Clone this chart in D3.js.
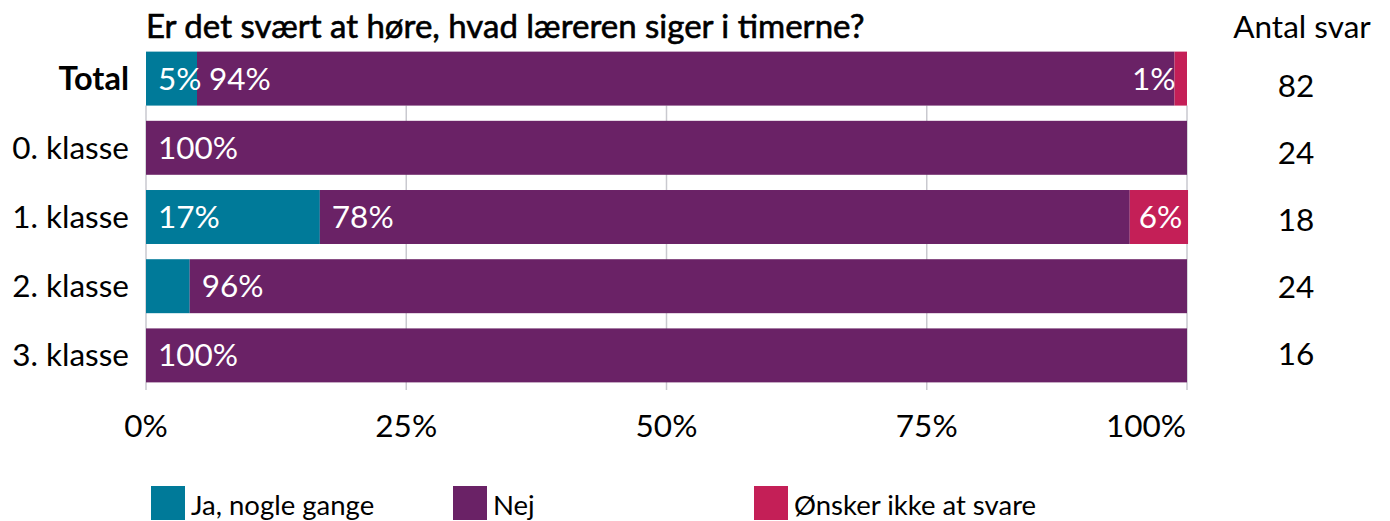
<!DOCTYPE html>
<html><head><meta charset="utf-8">
<script src="https://cdn.jsdelivr.net/npm/d3@7"></script>
<style>body{margin:0;background:#fff}svg{font-family:Lato,"Noto Sans",sans-serif}</style>
</head><body><svg id="c" width="1390" height="521"></svg>
<script>
const categories = ["Total","0. klasse","1. klasse","2. klasse","3. klasse"];
const seriesNames = ["Ja, nogle gange","Nej","Ønsker ikke at svare"];
const jaValues = [4.9, 0, 16.7, 4.2, 0];
const nejValues = [93.9, 100, 77.8, 95.8, 100];
const onskerValues = [1.2, 0, 5.6, 0, 0];
const counts = [82, 24, 18, 24, 16];
const tickValues = [0, 25, 50, 75, 100];
const tickLabels = ["0%","25%","50%","75%","100%"];
const colors = ["#007a99","#6a2266","#c41f57"];
const title = "Er det svært at høre, hvad læreren siger i timerne?";
const countTitle = "Antal svar";

const FS = 31.5;
const svg = d3.select("#c");
const x = d3.scaleLinear().domain([0,100]).range([146,1187]);
const y = d3.scaleBand().domain(categories).range([44,390]).paddingInner(0.22).paddingOuter(0.11);
const yc = d3.scalePoint().domain(categories).range([86,354]);
const legendX = d3.scaleOrdinal().domain(seriesNames).range([151,453,754]);

// grid
svg.append("g").selectAll("line").data(tickValues).join("line")
  .attr("x1",d=>x(d)).attr("x2",d=>x(d)).attr("y1",y(categories[0])+y.bandwidth()).attr("y2",390)
  .attr("stroke","#c9c9cf").attr("stroke-width",1.5);

const rows = categories.map((c,i)=>({cat:c, vals:[jaValues[i],nejValues[i],onskerValues[i]]}));
rows.forEach(r=>{
  let acc=0;
  r.segs = r.vals.map((v,k)=>{const s={cat:r.cat,k,v,x0:acc,x1:acc+v}; acc+=v; return s;});
});
const segs = rows.flatMap(r=>r.segs).filter(s=>s.v>0);
svg.append("g").selectAll("rect").data(segs).join("rect")
  .attr("x",d=>x(d.x0)).attr("width",d=>x(d.x1)-x(d.x0))
  .attr("y",d=>y(d.cat)).attr("height",y.bandwidth())
  .attr("fill",d=>colors[d.k]);

svg.append("g").selectAll("text").data(segs.filter(s=>s.v>=4.5 || s.k===2)).join("text")
  .each(function(d){
    const t=d3.select(this);
    const narrow = d.k===2 && (x(d.x1)-x(d.x0))<40;
    t.attr("x", narrow ? x(d.x0)+1 : x(d.x0)+(d.k===2?9:12))
     .attr("text-anchor", narrow ? "end":"start");
  })
  .attr("y",d=>y(d.cat)+y.bandwidth()/2+11)
  .attr("fill","#fff").attr("font-size",FS)
  .text(d=>Math.round(d.v)+"%");

// category labels
svg.append("g").selectAll("text").data(categories).join("text")
  .attr("x",129).attr("y",d=>y(d)+y.bandwidth()/2+11).attr("text-anchor","end")
  .attr("font-size",(d,i)=>i===0?32.5:FS).attr("fill","#000")
  .attr("font-weight",(d,i)=>i===0?700:400)
  .text(d=>d);

// x axis labels
svg.append("g").selectAll("text").data(tickValues).join("text")
  .attr("x",d=>x(d)).attr("y",437).attr("text-anchor",(d,i)=>i===tickValues.length-1?"end":"middle")
  .attr("dx",(d,i)=>i===tickValues.length-1?-1:0)
  .attr("font-size",FS).attr("fill","#000")
  .text((d,i)=>tickLabels[i]);

// title
svg.append("text").attr("x",146).attr("y",38).attr("font-size",33).attr("fill","#000")
  .attr("stroke","#000").attr("stroke-width",0.6).text(title);
svg.append("text").attr("x",1302).attr("y",38).attr("text-anchor","middle").attr("font-size",FS).attr("fill","#000").text(countTitle);
svg.append("g").selectAll("text").data(counts).join("text")
  .attr("x",1296).attr("y",(d,i)=>yc(categories[i])+11).attr("text-anchor","middle")
  .attr("font-size",FS).attr("fill","#000").text(d=>d);

// legend
const lg = svg.append("g").selectAll("g").data(seriesNames).join("g")
  .attr("transform",d=>`translate(${legendX(d)},486)`);
lg.append("rect").attr("width",34).attr("height",34).attr("fill",(d,i)=>colors[i]);
lg.append("text").attr("x",40).attr("y",29).attr("font-size",27.5).attr("fill","#000").text(d=>d);
</script></body></html>
